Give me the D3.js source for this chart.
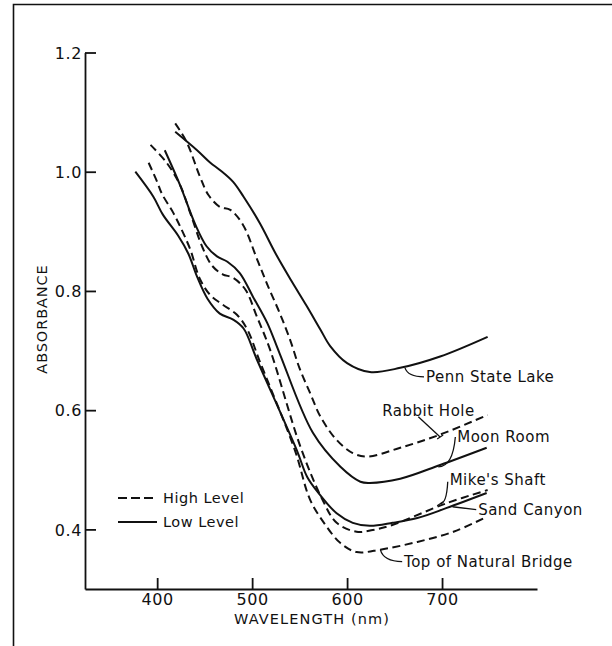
<!DOCTYPE html>
<html>
<head>
<meta charset="utf-8">
<script src="https://cdn.jsdelivr.net/npm/d3@7"></script>
<style>
    body { margin: 0; background: #fff; }
    text { font-family: "DejaVu Sans", sans-serif; fill: #111; }
</style>
</head>
<body>
<div class="canvas"></div>
<script>
// data (wavelength nm / absorbance)
const pennNm = [419, 442, 456, 466, 480, 491, 508, 525, 541, 557, 572, 582, 600, 624, 656, 698, 748];
const pennAbs = [1.067, 1.036, 1.015, 1.003, 0.983, 0.958, 0.914, 0.862, 0.818, 0.776, 0.735, 0.708, 0.679, 0.664, 0.671, 0.690, 0.723];

const rabbitNm = [419, 431, 445, 454, 466, 477, 490, 506, 517, 529, 540, 550, 561, 572, 589, 606, 621, 656, 698, 748];
const rabbitAbs = [1.081, 1.050, 0.992, 0.961, 0.941, 0.936, 0.912, 0.850, 0.807, 0.763, 0.718, 0.670, 0.629, 0.589, 0.550, 0.528, 0.522, 0.537, 0.559, 0.592];

const moonNm = [408, 424, 440, 452, 463, 474, 487, 501, 516, 529, 564, 593, 614, 624, 656, 698, 747];
const moonAbs = [1.036, 0.978, 0.912, 0.875, 0.858, 0.849, 0.830, 0.790, 0.746, 0.695, 0.562, 0.505, 0.480, 0.478, 0.485, 0.508, 0.537];

const mikeNm = [393, 410, 424, 435, 448, 458, 469, 480, 493, 505, 519, 551, 574, 589, 610, 627, 645, 705, 748];
const mikeAbs = [1.045, 1.015, 0.978, 0.930, 0.872, 0.842, 0.828, 0.822, 0.802, 0.757, 0.701, 0.538, 0.450, 0.411, 0.396, 0.399, 0.406, 0.444, 0.466];

const bridgeNm = [391, 400, 405, 417, 426, 435, 445, 456, 469, 484, 495, 508, 545, 561, 577, 593, 610, 635, 674, 712, 747];
const bridgeAbs = [1.015, 0.983, 0.963, 0.931, 0.902, 0.869, 0.820, 0.793, 0.777, 0.760, 0.735, 0.682, 0.533, 0.450, 0.408, 0.377, 0.362, 0.366, 0.379, 0.396, 0.421];

const sandNm = [377, 396, 406, 422, 433, 442, 453, 466, 480, 491, 505, 547, 558, 570, 589, 606, 624, 648, 674, 705, 747];
const sandAbs = [1.0, 0.958, 0.928, 0.893, 0.862, 0.824, 0.787, 0.762, 0.752, 0.737, 0.685, 0.533, 0.488, 0.461, 0.427, 0.411, 0.406, 0.411, 0.419, 0.436, 0.461];

const xTicks = [400, 500, 600, 700];
const yTicks = [0.4, 0.6, 0.8, 1.0, 1.2];

const series = [
    { name: 'Penn State Lake', level: 'low', nm: pennNm, abs: pennAbs },
    { name: 'Rabbit Hole', level: 'high', nm: rabbitNm, abs: rabbitAbs },
    { name: 'Moon Room', level: 'low', nm: moonNm, abs: moonAbs },
    { name: "Mike's Shaft", level: 'high', nm: mikeNm, abs: mikeAbs },
    { name: 'Sand Canyon', level: 'low', nm: sandNm, abs: sandAbs },
    { name: 'Top of Natural Bridge', level: 'high', nm: bridgeNm, abs: bridgeAbs }
];

// label text position + leader line (from, to) in data units
const labels = [
    { name: 'Penn State Lake', text: [683, 0.656], from: [661, 0.671], to: [681, 0.656], bend: true },
    { name: 'Rabbit Hole', text: [637, 0.600], from: [675, 0.589], to: [698, 0.555], bend: false, tick: true },
    { name: 'Moon Room', text: [716, 0.555], from: [714, 0.555], to: [696, 0.505], bend: true },
    { name: "Mike's Shaft", text: [708, 0.483], from: [706, 0.480], to: [698, 0.443], bend: true, tick: true },
    { name: 'Sand Canyon', text: [738, 0.433], from: [711, 0.438], to: [736, 0.433], bend: false },
    { name: 'Top of Natural Bridge', text: [660, 0.346], from: [635, 0.366], to: [658, 0.346], bend: true }
];

const dimensions = { width: 612, height: 646 };
const dash = '8,4.5';

const svg = d3.select('.canvas')
                .append('svg')
                .attr('width', dimensions.width)
                .attr('height', dimensions.height);

// frame
svg.append('path')
    .attr('d', 'M13.5,646 V4.5 H612')
    .attr('fill', 'none')
    .attr('stroke', '#111')
    .attr('stroke-width', 1.6);

const x = d3.scaleLinear()
            .domain([324, 800])
            .range([85, 537]);

const y = d3.scaleLinear()
            .domain([0.3, 1.2])
            .range([589, 52.5]);

const xAxis = d3.axisBottom(x)
                .tickValues(xTicks)
                .tickSizeInner(-11)
                .tickSizeOuter(0)
                .tickPadding(5);

const yAxis = d3.axisLeft(y)
                .tickValues(yTicks)
                .tickSizeInner(-11)
                .tickSizeOuter(0)
                .tickPadding(3)
                .tickFormat(d3.format('.1f'));

const xg = svg.append('g')
            .attr('transform', `translate(0, ${y.range()[0]})`)
            .call(xAxis);

const yg = svg.append('g')
            .attr('transform', `translate(${x.range()[0]}, 0)`)
            .call(yAxis);

[xg, yg].forEach(g => {
    g.selectAll('path, line')
        .attr('stroke', '#111')
        .attr('stroke-width', 1.8);
    g.selectAll('text')
        .attr('font-size', 16)
        .attr('font-family', '"DejaVu Sans", sans-serif')
        .attr('letter-spacing', 0.6)
        .attr('fill', '#111');
});
yg.selectAll('text').attr('dy', '0.36em');

// axis titles
svg.append('text')
    .attr('x', 312)
    .attr('y', 624)
    .attr('text-anchor', 'middle')
    .attr('font-size', 14.5)
    .attr('letter-spacing', 1.1)
    .text('WAVELENGTH (nm)');

svg.append('text')
    .attr('transform', 'translate(47, 319) rotate(-90)')
    .attr('text-anchor', 'middle')
    .attr('font-size', 14.5)
    .attr('letter-spacing', 0.9)
    .text('ABSORBANCE');

// curves
const line = d3.line()
                .x(d => x(d[0]))
                .y(d => y(d[1]))
                .curve(d3.curveCatmullRom.alpha(0.5));

svg.append('g')
    .selectAll('path')
    .data(series)
    .enter()
    .append('path')
        .attr('d', s => line(s.nm.map((n, i) => [n, s.abs[i]])))
        .attr('fill', 'none')
        .attr('stroke', '#111')
        .attr('stroke-width', 2)
        .attr('stroke-dasharray', s => s.level === 'high' ? dash : null);

// curve labels and leader lines
const notes = svg.append('g');

labels.forEach(l => {
    const [fx, fy] = [x(l.from[0]), y(l.from[1])];
    const [tx, ty] = [x(l.to[0]), y(l.to[1])];
    const d = l.bend
        ? `M${fx},${fy} Q${fx + (tx - fx) * 0.15},${ty} ${tx},${ty}`
        : `M${fx},${fy} L${tx},${ty}`;
    notes.append('path')
        .attr('d', d)
        .attr('fill', 'none')
        .attr('stroke', '#111')
        .attr('stroke-width', 1.3);
    if (l.tick) {
        notes.append('path')
            .attr('d', `M${tx - 3},${ty + 2} L${tx + 3},${ty - 2}`)
            .attr('stroke', '#111')
            .attr('stroke-width', 1.3);
    }
    notes.append('text')
        .attr('x', x(l.text[0]))
        .attr('y', y(l.text[1]))
        .attr('dy', '0.36em')
        .attr('font-size', 15)
        .attr('letter-spacing', 0.5)
        .text(l.name);
});

// legend
const legend = svg.append('g')
                .attr('transform', 'translate(118, 498)');

const legendItems = [
    { label: 'High Level', dashed: true },
    { label: 'Low Level', dashed: false }
];

legendItems.forEach((item, i) => {
    legend.append('line')
        .attr('x1', 0).attr('x2', 39)
        .attr('y1', i * 24).attr('y2', i * 24)
        .attr('stroke', '#111')
        .attr('stroke-width', 2)
        .attr('stroke-dasharray', item.dashed ? '9,4' : null);
    legend.append('text')
        .attr('x', 45)
        .attr('y', i * 24)
        .attr('dy', '0.36em')
        .attr('font-size', 14.5)
        .attr('letter-spacing', 0.5)
        .text(item.label);
});
</script>
</body>
</html>
